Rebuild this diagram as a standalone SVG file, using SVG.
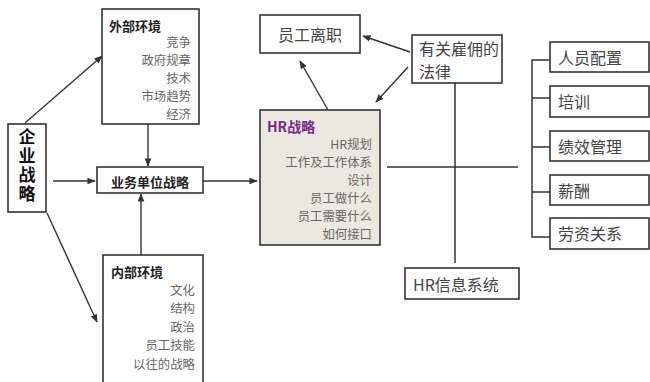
<svg xmlns="http://www.w3.org/2000/svg" width="650" height="382" viewBox="0 0 650 382">
<defs>
<marker id="ah" viewBox="0 0 10 10" refX="9" refY="5" markerWidth="6" markerHeight="6" orient="auto"><path d="M0,1 L10,5 L0,9 z" fill="#333"/></marker>
<style>
.box{fill:#fff;stroke:#333;stroke-width:1.6}
.t{font-family:"Noto Sans CJK SC","Noto Sans",sans-serif;dominant-baseline:central}
.title{font-size:13px;font-weight:bold;fill:#222}
.item{font-size:12.4px;fill:#666;text-anchor:end}
.big{font-size:16px;fill:#444}
.ln{stroke:#333;stroke-width:1.5;fill:none}
.ar{stroke:#333;stroke-width:1.4;fill:none;marker-end:url(#ah)}
</style>
</defs>
<rect width="650" height="382" fill="#fff"/>
<g id="connectors">
<line class="ar" x1="25" y1="123" x2="102" y2="56"/>
<line class="ar" x1="53" y1="181" x2="95" y2="181"/>
<line class="ar" x1="148" y1="124" x2="148" y2="166"/>
<line class="ar" x1="141" y1="255" x2="141" y2="194"/>
<line class="ar" x1="47" y1="213" x2="97" y2="322"/>
<line class="ar" x1="203" y1="181" x2="257" y2="181"/>
<line class="ar" x1="328" y1="110" x2="300" y2="61"/>
<line class="ar" x1="410" y1="52" x2="363" y2="36"/>
<line class="ar" x1="408" y1="67" x2="376" y2="102"/>
<line class="ln" x1="455" y1="83" x2="455" y2="263"/>
<line class="ln" x1="387" y1="167" x2="518" y2="167"/>
<path class="ln" d="M550,60 H532 V237 H550 M532,98 H550 M532,147 H550 M532,192 H550"/>
</g>
<g id="qiye">
<rect class="box" x="8" y="124" width="38" height="88"/>
<text x="27" y="128" writing-mode="vertical-rl" font-family="'Noto Sans CJK SC','Noto Sans',sans-serif" font-size="17" font-weight="bold" fill="#111" letter-spacing="2">企业战略</text>
</g>
<g id="external">
<rect class="box" x="102" y="9" width="97" height="115"/>
<text class="t title" x="109" y="25">外部环境</text>
<text class="t item" x="191" y="42">竞争</text>
<text class="t item" x="191" y="60">政府规章</text>
<text class="t item" x="191" y="78">技术</text>
<text class="t item" x="191" y="96">市场趋势</text>
<text class="t item" x="191" y="114">经济</text>
</g>
<g id="business">
<rect class="box" x="97" y="167" width="106" height="26"/>
<text class="t title" x="150" y="181" text-anchor="middle">业务单位战略</text>
</g>
<g id="internal">
<rect class="box" x="103" y="255" width="100" height="130"/>
<text class="t title" x="111" y="271">内部环境</text>
<text class="t item" x="195" y="290">文化</text>
<text class="t item" x="195" y="308">结构</text>
<text class="t item" x="195" y="327">政治</text>
<text class="t item" x="195" y="345">员工技能</text>
<text class="t item" x="195" y="364">以往的战略</text>
</g>
<g id="hr">
<rect x="260" y="110" width="120" height="135" fill="#ebe8df" stroke="#333" stroke-width="1.6"/>
<text class="t" x="267" y="126" font-size="14" font-weight="bold" fill="#7a2a8a">HR战略</text>
<text class="t item" x="372" y="144" fill="#333">HR规划</text>
<text class="t item" x="372" y="162">工作及工作体系</text>
<text class="t item" x="372" y="180">设计</text>
<text class="t item" x="372" y="198">员工做什么</text>
<text class="t item" x="372" y="216">员工需要什么</text>
<text class="t item" x="372" y="234">如何接口</text>
</g>
<g id="lizhi">
<rect class="box" x="260" y="15" width="100" height="38"/>
<text class="t big" x="310" y="34" text-anchor="middle">员工离职</text>
</g>
<g id="law">
<rect class="box" x="412" y="35" width="90" height="48"/>
<text class="t big" x="419" y="48" font-size="15">有关雇佣的</text>
<text class="t big" x="419" y="71" font-size="15">法律</text>
</g>
<g id="hris">
<rect class="box" x="405" y="268" width="114" height="31"/>
<text class="t big" x="413" y="284" font-size="15">HR信息系统</text>
</g>
<g id="r1"><rect class="box" x="550" y="42" width="99" height="30"/><text class="t big" x="558" y="57">人员配置</text></g>
<g id="r2"><rect class="box" x="550" y="86" width="99" height="31"/><text class="t big" x="558" y="101">培训</text></g>
<g id="r3"><rect class="box" x="550" y="131" width="99" height="30"/><text class="t big" x="558" y="146">绩效管理</text></g>
<g id="r4"><rect class="box" x="550" y="175" width="99" height="30"/><text class="t big" x="558" y="190">薪酬</text></g>
<g id="r5"><rect class="box" x="550" y="218" width="99" height="31"/><text class="t big" x="558" y="233">劳资关系</text></g>
</svg>
